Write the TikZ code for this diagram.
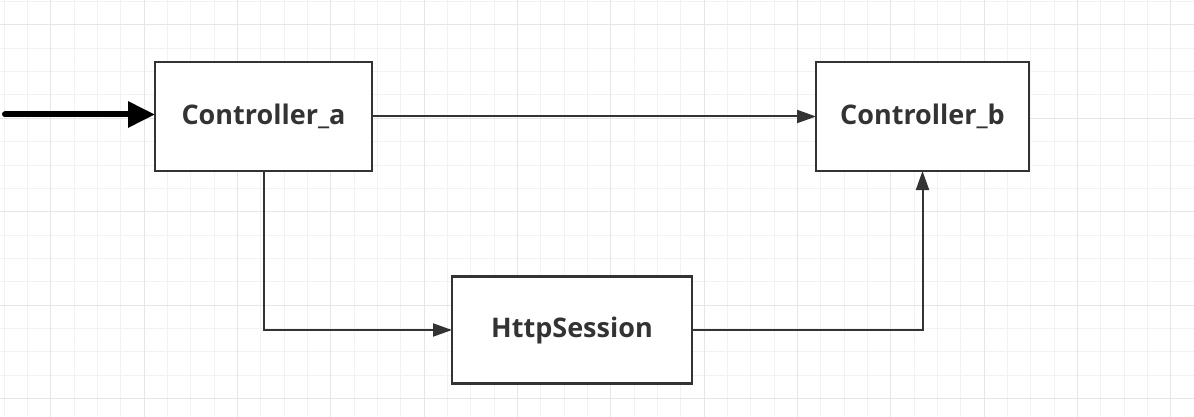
\documentclass[tikz,border=0pt]{standalone}
\usepackage{fontspec}
\setmainfont{Open Sans}
\usetikzlibrary{arrows.meta}
\definecolor{gridminor}{HTML}{F2F2F2}
\definecolor{gridmajor}{HTML}{E6E6E6}
\definecolor{ink}{HTML}{333333}
\tikzset{
  box/.style={draw=ink, line width=2.5pt, fill=white, inner sep=0pt, outer sep=0pt,
    text=ink, font=\fontsize{27}{32}\selectfont\bfseries},
  conn/.style={draw=ink, line width=2pt, -{Triangle[length=19pt,width=13pt]}},
  startarrow/.style={draw=black, line width=6pt, line cap=round, -{Triangle[length=27pt,width=25pt]}},
}
\begin{document}
\begin{tikzpicture}[x=1pt,y=-1pt]
\useasboundingbox (0,0) rectangle (1194,417);
\fill[white] (0,0) rectangle (1194,417);
% grid
\foreach \i in {0,...,51} {\draw[gridminor, line width=1pt] ({4+23.3333*\i},0) -- ++(0,417);}
\foreach \i in {0,...,18} {\draw[gridminor, line width=1pt] (0,{1.667+23.3333*\i}) -- ++(1194,0);}
\foreach \i in {0,...,12} {\draw[gridmajor, line width=1pt] ({50.667+93.3333*\i},0) -- ++(0,417);}
\foreach \i in {0,...,4} {\draw[gridmajor, line width=1pt] (0,{25+93.3333*\i}) -- ++(1194,0);}
% nodes
\node[box, minimum width=217pt, minimum height=109pt] (ca) at (263.5,116.5) {Controller\_a};
\node[box, minimum width=213pt, minimum height=109pt] (cb) at (922.5,116.5) {Controller\_b};
\node[box, minimum width=240pt, minimum height=107pt] (hs) at (572,330) {HttpSession};
\coordinate (start) at (5,114.5);
% connectors
\draw[startarrow] (start) -- (start -| ca.west);
\draw[conn] (ca.east) -- (cb.west);
\draw[conn] (ca.south) |- (hs.west);
\draw[conn] (hs.east) -| (cb.south);
\end{tikzpicture}
\end{document}
